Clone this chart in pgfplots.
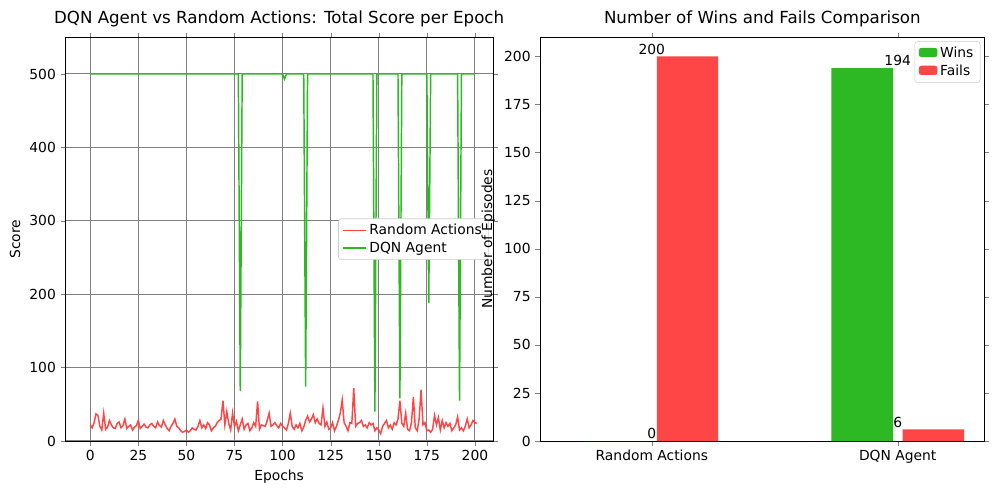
\documentclass[border=0pt]{standalone}
\usepackage{pgfplots}
\pgfplotsset{compat=1.18}
\usepackage{fontspec}
\setmainfont{DejaVu Sans}
\definecolor{myred}{RGB}{255,70,70}
\definecolor{mygreen}{RGB}{44,185,36}
\begin{document}
\begin{tikzpicture}
\draw[white] (-48.75pt,-44.25pt) rectangle (701.25pt,330.75pt);
\pgfplotsset{every axis/.append style={font=\fontsize{10.4}{12}\selectfont, tick label style={font=\fontsize{10.4}{12}\selectfont}, /pgf/number format/assume math mode=true, title style={font=\fontsize{12.5}{14}\selectfont, yshift=-2pt}, tick align=outside, major tick length=3.5pt}}
\begin{axis}[at={(0pt,0pt)}, anchor=south west, scale only axis, width=321pt, height=303pt,
 xmin=-13, xmax=209.4, ymin=0, ymax=550, xtick={0,25,...,200}, ytick={0,100,...,500},
 grid=major, grid style={gray, line width=0.8pt},
 title={DQN Agent vs Random Actions: Total Score per Epoch}, xlabel={Epochs}, ylabel={Score},
 legend style={at={(0.99,0.5)}, anchor=east, draw=gray!40, rounded corners=2pt, cells={anchor=west}},
 legend cell align=left]
\addplot[myred, line width=1.1pt] table[y index=0, x expr=\coordindex] {
y
22
18
25
37
35
20
15
38
16
19
28
22
18
17
24
26
18
21
30
17
20
22
15
19
21
28
17
20
23
19
18
22
24
20
18
26
21
19
28
22
17
14
20
24
30
20
18
14
12
13
15
12
14
18
16
15
20
28
18
22
17
25
22
14
18
20
25
28
30
55
22
40
24
15
38
20
27
14
22
30
16
22
24
14
18
25
20
54
16
22
21
20
28
38
20
22
25
21
18
24
20
18
15
24
38
20
16
22
18
24
14
19
28
34
26
30
36
25
30
24
22
45
20
26
16
18
25
14
20
28
38
56
25
20
14
25
24
72
20
24
25
28
20
22
18
25
22
24
14
18
15
10
20
24
28
18
22
16
25
22
30
55
24
20
38
16
14
25
60
18
14
30
70
22
25
14
15
12
16
35
22
32
15
28
18
25
20
24
14
18
22
33
15
18
14
20
30
18
22
28
25
24
};
\addlegendentry{Random Actions}
\addplot[draw=mygreen, line width=1.1pt] coordinates {(0,500)(77,500)(78,68)(79,500)(100,500)(101,493)(102,500)(111,500)(112,74)(113,500)(147,500)(148,40)(149,500)(150,500)(160,500)(161,58)(162,500)(175,500)(176,188)(177,500)(191,500)(192,55)(193,500)(200,500)};
\addlegendentry{DQN Agent}
\end{axis}
\begin{axis}[at={(356.25pt,0pt)}, anchor=south west, scale only axis, width=333.75pt, height=303pt,
 xmin=-0.455, xmax=1.354, ymin=0, ymax=210, xtick={0,1}, xticklabels={Random Actions, DQN Agent},
 ytick={0,25,...,200}, title={Number of Wins and Fails Comparison}, ylabel={Number of Episodes},
 legend style={at={(0.99,0.99)}, anchor=north east, draw=gray!40, rounded corners=2pt},
 legend cell align=left, legend image code/.code={\fill[#1] (0,-3pt) rectangle (14pt,4pt);},
 nodes near coords, nodes near coords style={font=\fontsize{10.4}{12}\selectfont, yshift=-2pt}]
\addplot[fill=mygreen, draw=none, bar width=0.25, ybar, bar shift=-0.145] coordinates {(0,0)(1,194)};
\addlegendentry{Wins}
\addplot[fill=myred, draw=none, bar width=0.25, ybar, bar shift=0.145] coordinates {(0,200)(1,6)};
\addlegendentry{Fails}
\end{axis}
\end{tikzpicture}
\end{document}
